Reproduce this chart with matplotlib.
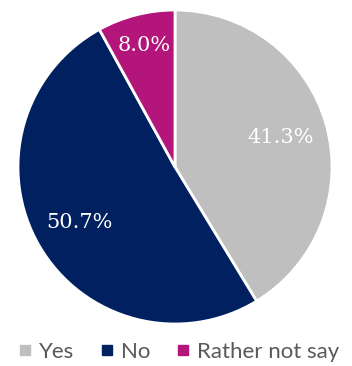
import matplotlib
matplotlib.use("Agg")
import matplotlib.pyplot as plt
from matplotlib.lines import Line2D

categories = ["Yes", "No", "Rather not say"]
values = [41.3, 50.7, 8.0]
labels = ["41.3%", "50.7%", "8.0%"]
colors = ["#BFBFBF", "#002060", "#B4157A"]

fig = plt.figure(figsize=(3.52, 3.66), dpi=100)
ax = fig.add_axes([18 / 352, 42 / 366, 314 / 352, 314 / 366])
wedges, texts = ax.pie(values, colors=colors, startangle=90, counterclock=False,
                       labels=labels, labeldistance=0.7,
                       wedgeprops=dict(edgecolor="white", linewidth=2),
                       textprops=dict(color="white", fontsize=15, family="DejaVu Serif"))
for t in texts:
    t.set_ha("center"); t.set_va("center")
x, y = texts[2].get_position()
texts[2].set_position((x * 1.14, y * 1.14))
ax.set_xlim(-1, 1)
ax.set_ylim(-1, 1)
ax.set_aspect("equal")

handles = [Line2D([], [], marker="s", linestyle="", color=c, markersize=7) for c in colors]
fig.legend(handles, categories, loc="center", bbox_to_anchor=(0.505, 1 - 352 / 366), ncol=3,
           frameon=False, handletextpad=0.25, columnspacing=1.05, handlelength=0.8,
           prop=dict(family="Lato", size=16), labelcolor="#595959")
fig.savefig("out.png", dpi=100)
